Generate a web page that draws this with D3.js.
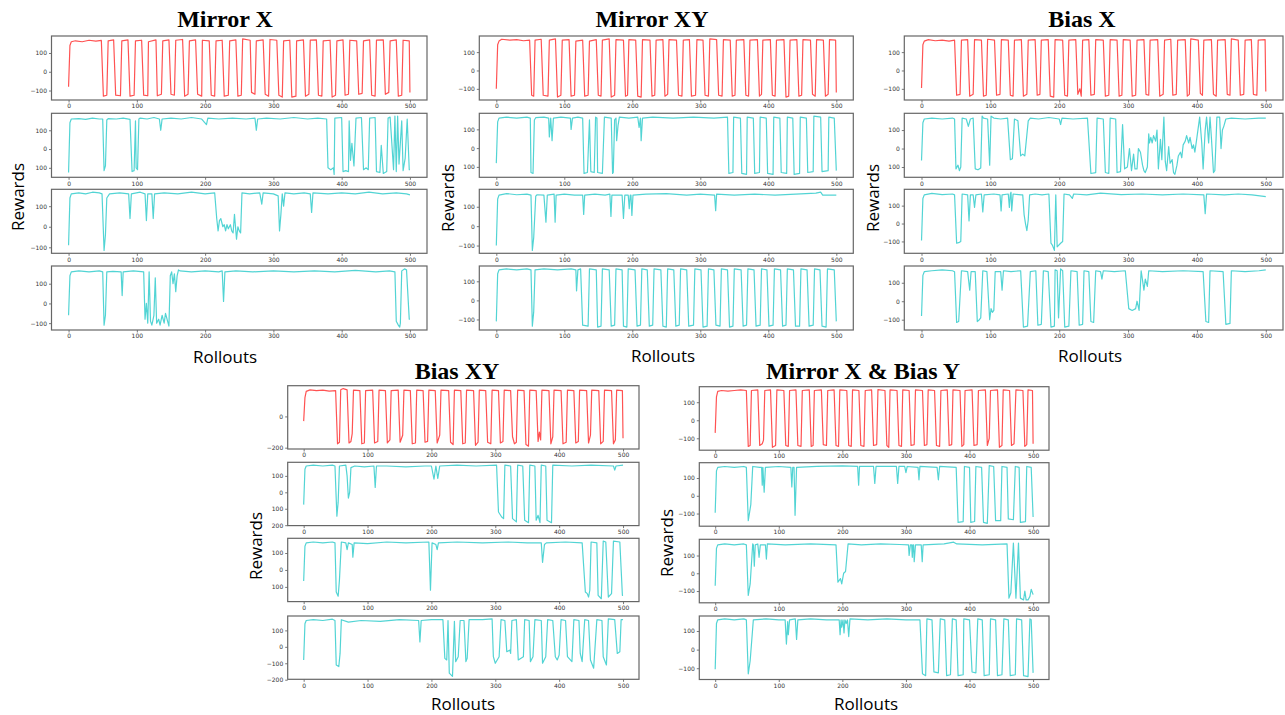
<!DOCTYPE html>
<html>
<head>
<meta charset="utf-8">
<script src="https://cdn.jsdelivr.net/npm/d3@7"></script>
<style>
  body { margin: 0; background: #fff; }
  svg { display: block; }
</style>
</head>
<body>
<svg id="chart" width="1285" height="715"></svg>
<script>
// ---- data ----
const panelTitles = ["Mirror X", "Mirror XY", "Bias X", "Bias XY", "Mirror X & Bias Y"];
const rolloutTicks = [0, 100, 200, 300, 400, 500];
const rewardTicks = [-100, 0, 100];
const rewardTicksCoarse = [-200, 0];
const rewardTicksWide = [-200, -100, 0, 100];

// each series: [rollout, reward] points
const mirrorXRed = [[0,-80],[2,140],[4,160],[10,165],[20,160],[30,168],[40,163],[48,167],
  [51,-130],[56,-125],[58,165],[66,170],[69,-125],[76,-128],[78,165],[87,170],[90,-130],[96,-125],[98,165],[107,168],[110,-125],[116,-128],[117,160],[128,170],[130,-128],[136,-120],[138,165],[147,170],[150,-120],[155,-125],[157,168],[167,172],[170,-130],[175,-120],[177,165],[186,170],[189,-120],[195,-130],[196,168],[206,165],[209,-125],[214,-130],[216,165],[225,168],[228,-130],[234,-125],[236,165],[245,170],[248,-130],[253,-125],[255,175],[266,168],[268,-110],[273,-120],[275,165],[285,170],[288,-120],[293,-130],[295,172],[305,168],[308,-125],[313,-135],[315,165],[324,168],[327,-135],[333,-130],[334,165],[344,170],[347,-130],[352,-120],[354,168],[363,170],[366,-125],[371,-130],[373,165],[383,168],[386,-135],[391,-125],[393,165],[402,170],[405,-125],[410,-120],[412,168],[422,165],[425,-120],[430,-115],[432,165],[441,170],[444,-125],[449,-130],[451,168],[461,170],[464,-120],[469,-110],[471,165],[480,170],[483,-130],[488,-125],[490,168],[499,165],[500,-110]];
const mirrorXRun1 = [[0,-125],[2,140],[4,160],[15,162],[25,158],[35,165],[45,160],[50,160],[52,-115],[54,-90],[56,155],[58,162],[70,160],[80,165],[90,158],[93,-120],[96,-115],[98,150],[99,-100],[101,-110],[103,160],[105,165],[115,160],[125,168],[133,160],[135,100],[137,160],[150,165],[165,160],[180,168],[195,160],[202,130],[204,165],[220,160],[240,165],[260,160],[273,165],[275,100],[277,160],[290,165],[310,160],[330,168],[350,160],[365,165],[378,160],[380,-100],[384,-110],[388,-100],[389,-135],[390,165],[400,168],[402,-120],[406,-115],[410,-120],[411,150],[413,-60],[415,30],[418,-90],[421,165],[429,168],[432,-110],[436,-100],[439,-110],[441,165],[449,168],[451,-120],[456,-125],[458,20],[461,-130],[466,-120],[468,165],[471,170],[476,-110],[478,175],[480,-120],[482,175],[484,-80],[488,150],[490,-115],[493,-50],[496,160],[499,-110],[500,-110]];
const mirrorXRun2 = [[0,-90],[2,140],[4,160],[15,165],[25,160],[35,168],[45,165],[49,160],[52,-115],[54,-40],[56,140],[60,160],[75,165],[88,160],[90,40],[92,160],[105,168],[112,160],[114,30],[116,160],[122,160],[124,40],[126,160],[140,165],[160,160],[180,168],[200,160],[214,165],[217,40],[219,-20],[221,30],[223,40],[226,0],[228,10],[230,-20],[232,10],[234,-10],[237,10],[239,-20],[241,-30],[243,60],[245,-20],[246,-60],[248,0],[250,-20],[252,-30],[254,165],[265,160],[280,165],[283,110],[285,165],[300,160],[307,150],[309,-20],[311,60],[313,160],[315,100],[317,165],[330,160],[345,165],[354,160],[356,70],[358,165],[380,160],[400,165],[420,160],[440,168],[460,160],[480,165],[495,160],[500,155]];
const mirrorXRun3 = [[0,-60],[2,140],[4,160],[15,165],[30,160],[45,165],[50,160],[52,-110],[54,-60],[56,160],[65,162],[77,160],[78.5,40],[80,160],[95,165],[110,160],[112,-80],[114,0],[116,-100],[118,160],[120,-90],[122,-110],[125,-60],[127,130],[129,-100],[132,-80],[134,-110],[137,-60],[140,-100],[142,-50],[145,-90],[147,-115],[149,140],[151,160],[153,100],[155,150],[157,60],[159,140],[161,170],[163,165],[180,160],[200,165],[220,160],[225,165],[227,10],[229,160],[245,165],[270,160],[300,165],[330,160],[360,165],[390,160],[420,168],[450,160],[470,165],[478,160],[480,-90],[483,-110],[485,-120],[486,-100],[488,165],[492,175],[495,170],[499,-80],[500,-80]];

const mirrorXYRed = [[0,-100],[2,140],[4,160],[8,170],[20,165],[30,168],[40,162],[49,165],
  [52,-135],[55,-140],[57,165],[66,170],[69,-135],[76,-140],[78,165],[87,172],[90,-145],[95,-135],[97,165],[107,168],[110,-140],[115,-135],[117,160],[127,165],[130,-140],[135,-135],[137,160],[147,168],[150,-135],[154,-140],[156,165],[166,172],[169,-145],[174,-135],[176,168],[187,165],[190,-140],[193,-135],[195,168],[205,165],[208,-140],[213,-145],[215,168],[226,165],[229,-140],[233,-135],[235,165],[245,168],[248,-140],[252,-130],[254,168],[265,165],[268,-135],[273,-140],[275,165],[284,168],[287,-140],[293,-135],[295,168],[304,165],[307,-135],[312,-140],[314,172],[324,168],[327,-135],[332,-140],[334,168],[344,165],[347,-140],[351,-135],[353,165],[364,168],[367,-135],[371,-140],[373,165],[384,168],[387,-140],[390,-130],[392,165],[403,168],[406,-135],[410,-140],[412,165],[423,168],[426,-145],[430,-140],[432,165],[442,168],[445,-140],[449,-135],[451,168],[462,165],[465,-130],[469,-140],[471,168],[481,165],[484,-140],[488,-130],[490,168],[499,165],[500,-120]];
const mirrorXYRun1 = [[0,-80],[2,140],[4,160],[15,165],[30,160],[45,165],[50,160],[51,-130],[54,-135],[56,150],[58,162],[70,165],[77,160],[78,60],[80,160],[82,40],[84,160],[95,165],[109,160],[110,100],[112,160],[120,165],[127,160],[129,-135],[134,-130],[137,150],[139,-125],[144,-130],[146,165],[148,160],[149,-130],[156,-135],[159,165],[169,160],[171,-135],[172,-130],[174,150],[176,160],[177,40],[179,120],[181,165],[195,160],[208,165],[210,110],[212,160],[213,40],[215,160],[230,165],[260,160],[290,165],[320,160],[340,165],[342,-135],[348,-130],[349,165],[359,160],[361,-135],[368,-140],[369,165],[378,160],[380,-135],[387,-130],[388,165],[397,160],[399,-135],[407,-140],[408,165],[417,160],[419,-130],[427,-135],[428,165],[436,160],[438,-140],[446,-135],[447,165],[456,160],[458,-130],[466,-125],[467,170],[477,165],[479,-125],[488,-120],[489,165],[497,160],[500,-120]];
const mirrorXYRun2 = [[0,-100],[2,140],[4,160],[15,168],[30,162],[45,165],[51,160],[53,-125],[55,-60],[58,155],[60,162],[70,160],[73,20],[75,160],[85,165],[86.5,20],[88,160],[100,165],[115,160],[127,160],[128.5,60],[130,160],[145,165],[160,160],[167,165],[168.6,50],[170,160],[185,160],[187,40],[189,160],[194,160],[195.5,90],[197,160],[198,160],[199.4,55],[201,160],[220,165],[250,168],[280,160],[300,165],[321,160],[322.6,80],[324,165],[350,160],[380,165],[410,160],[440,165],[470,170],[477,175],[480,160],[500,160]];
const mirrorXYRun3 = [[0,-110],[2,140],[4,160],[15,165],[30,160],[45,165],[51,160],[53,-135],[55,-60],[57,160],[70,165],[90,160],[110,165],[117,160],[118,50],[120,160],[124,165],[127,-130],[135,-135],[137,165],[147,160],[149,-140],[154,-135],[156,165],[166,160],[169,-135],[174,-130],[176,165],[185,160],[187,-135],[192,-140],[194,165],[204,160],[207,-135],[212,-130],[214,165],[222,160],[225,-135],[230,-130],[232,165],[242,160],[245,-135],[250,-140],[252,165],[261,160],[264,-135],[269,-130],[271,165],[280,160],[283,-135],[290,-130],[292,165],[301,160],[304,-140],[310,-135],[312,165],[320,160],[323,-130],[329,-135],[331,165],[340,160],[343,-140],[348,-135],[350,165],[360,160],[363,-135],[368,-130],[370,165],[379,160],[382,-135],[388,-130],[390,165],[398,160],[401,-135],[407,-130],[409,165],[418,160],[421,-135],[426,-130],[428,165],[437,160],[440,-135],[446,-135],[448,165],[457,160],[460,-135],[466,-130],[468,165],[476,160],[479,-135],[485,-140],[487,165],[497,160],[500,-110]];

const biasXRed = [[0,-95],[2,140],[4,160],[10,168],[20,162],[30,165],[40,160],[48,165],
  [51,-135],[56,-130],[58,165],[67,168],[70,-140],[75,-130],[77,168],[87,165],[90,-140],[94,-135],[96,170],[106,165],[109,-135],[114,-130],[116,168],[126,165],[129,-135],[133,-140],[135,165],[145,168],[148,-140],[153,-130],[155,165],[165,168],[168,-135],[172,-130],[174,165],[184,168],[187,-140],[192,-145],[194,168],[205,165],[208,-135],[212,-140],[214,165],[224,168],[227,-130],[230,-100],[232,-140],[234,165],[243,168],[246,-135],[251,-130],[253,168],[264,165],[267,-140],[272,-135],[274,168],[284,165],[287,-140],[291,-135],[293,168],[303,165],[306,-140],[311,-135],[313,165],[323,168],[326,-130],[330,-135],[332,165],[343,168],[346,-140],[351,-130],[353,165],[362,170],[365,-135],[370,-130],[372,165],[383,168],[386,-140],[389,-130],[391,172],[402,165],[405,-125],[408,-135],[410,165],[421,168],[424,-130],[428,-140],[430,165],[441,168],[444,-130],[448,-135],[450,172],[460,165],[463,-135],[468,-130],[470,165],[479,168],[482,-130],[487,-135],[489,165],[499,168],[500,-115]];
const biasXRun1 = [[0,-65],[2,140],[4,160],[15,165],[30,160],[45,165],[48,160],[50,-110],[53,-90],[55,-120],[57,-100],[59,165],[65,160],[68,120],[71,160],[75,165],[78,-110],[82,-115],[86,-105],[88,175],[90,165],[96,160],[99,-90],[101,175],[105,165],[115,160],[125,165],[129,-60],[132,-55],[135,160],[140,150],[144,-40],[147,-30],[150,-40],[155,150],[158,165],[170,160],[185,168],[200,160],[202,130],[204,165],[220,160],[241,165],[246,-135],[253,-130],[255,165],[264,160],[267,-130],[272,-135],[274,165],[282,160],[284,-130],[289,-125],[292,130],[295,-110],[299,-100],[302,0],[305,-120],[308,-30],[310,-110],[313,-110],[315,0],[318,-20],[321,-90],[323,-120],[325,-130],[328,-100],[330,80],[331,30],[333,60],[335,30],[337,70],[340,40],[342,100],[344,-110],[347,50],[349,-60],[352,170],[354,-70],[356,-120],[359,10],[361,-80],[364,-60],[366,-130],[368,-140],[371,-90],[373,-40],[376,-20],[378,-50],[380,20],[383,40],[385,70],[388,30],[390,60],[393,0],[395,20],[397,-20],[400,60],[404,170],[407,30],[409,-110],[412,100],[414,170],[417,30],[419,170],[421,60],[424,-130],[426,-120],[429,170],[433,170],[435,0],[437,100],[439,120],[442,160],[450,165],[470,160],[490,165],[500,165]];
const biasXRun2 = [[0,-95],[2,140],[4,160],[15,168],[30,162],[45,165],[48,160],[51,-110],[55,-105],[57,-100],[59,165],[67,160],[69,15],[71,160],[75,160],[77,90],[79,160],[87,165],[89,65],[91,160],[105,165],[114,160],[115.6,70],[117,160],[126,165],[127.6,90],[129,165],[130,175],[131,70],[133,165],[145,160],[147,160],[149,50],[151,0],[153,-40],[155,20],[157,160],[165,165],[175,160],[185,165],[188,-110],[190,-120],[193,-150],[195,160],[197,-130],[202,-110],[205,-100],[207,165],[215,160],[219,140],[221,165],[240,160],[260,170],[290,162],[320,165],[350,160],[380,165],[410,160],[412,55],[414,165],[440,160],[460,165],[480,160],[500,150]];
const biasXRun3 = [[0,-80],[2,140],[4,160],[15,165],[30,170],[45,165],[48,160],[51,-115],[54,-110],[58,165],[67,160],[70,60],[72,160],[78,160],[81,-110],[84,-100],[86,-90],[89,165],[95,160],[99,-100],[101,-40],[103,-60],[105,-50],[107,160],[115,160],[117,60],[119,165],[130,160],[144,165],[148,-140],[154,-135],[158,160],[166,165],[169,-130],[174,-125],[177,165],[184,160],[188,-140],[193,-135],[194,170],[197,165],[199,-90],[202,175],[205,165],[208,-140],[214,-135],[217,165],[226,160],[229,-130],[234,-125],[236,165],[243,160],[246,-110],[250,-115],[253,165],[260,160],[262,120],[264,165],[280,160],[296,165],[301,-40],[306,-50],[311,-40],[313,0],[316,-50],[319,165],[323,60],[325,120],[328,80],[330,165],[350,160],[380,165],[409,160],[413,-110],[417,-115],[419,165],[438,160],[442,-125],[448,-120],[450,165],[470,160],[490,165],[500,170]];

const biasXYRed = [[0,-30],[2,120],[4,160],[10,170],[20,165],[30,168],[40,162],[50,165],
  [53,-175],[56,-165],[58,170],[62,178],[68,170],[71,-170],[74,-160],[76,-110],[78,168],[88,165],[91,-175],[95,-170],[97,165],[108,168],[111,-170],[116,-160],[118,168],[128,165],[131,-170],[135,-150],[137,165],[148,168],[151,-165],[155,-120],[157,168],[167,165],[170,-175],[175,-170],[177,168],[187,165],[190,-165],[194,-160],[196,168],[206,165],[209,-170],[213,-120],[215,168],[227,165],[230,-165],[234,-180],[236,168],[246,165],[249,-175],[253,-170],[255,168],[266,165],[269,-185],[273,-165],[275,168],[285,165],[288,-165],[293,-175],[295,168],[305,165],[308,-170],[312,-160],[314,168],[324,165],[327,-130],[330,-175],[333,-165],[335,168],[345,165],[348,-180],[352,-190],[354,168],[364,165],[367,-160],[369,-100],[371,-150],[373,168],[384,165],[387,-175],[390,-130],[392,168],[403,165],[406,-175],[411,-165],[413,168],[423,165],[426,-170],[430,-160],[432,168],[443,165],[446,-170],[449,-120],[451,168],[462,165],[465,-175],[469,-160],[471,168],[482,165],[485,-175],[488,-150],[490,168],[499,165],[500,-140]];
const biasXYRun1 = [[0,-75],[2,140],[4,160],[15,165],[30,160],[45,165],[49,160],[52,-145],[54,-60],[56,160],[66,165],[68,100],[70,-35],[72,0],[74,150],[80,160],[95,155],[110,160],[112,30],[114,160],[130,160],[160,155],[190,160],[200,160],[204,80],[207,160],[210,85],[213,160],[240,165],[270,160],[302,165],[305,-120],[310,-150],[313,-160],[315,165],[324,160],[327,-160],[333,-180],[335,165],[343,160],[346,-170],[352,-185],[354,165],[362,160],[364,-170],[367,-140],[370,-185],[372,165],[379,160],[381,-170],[388,-185],[390,165],[420,160],[450,165],[485,160],[487,135],[489,160],[500,165]];
const biasXYRun2 = [[0,-65],[2,140],[4,160],[15,165],[30,160],[45,165],[49,160],[51,-130],[54,-155],[56,-60],[59,165],[66,160],[68,120],[70,160],[76,150],[77,75],[79,160],[100,155],[130,165],[160,160],[196,165],[198.5,-120],[201,160],[207,150],[209,120],[211,160],[240,165],[280,160],[320,165],[350,160],[372,160],[374,45],[377,150],[380,160],[410,165],[436,160],[441,-130],[444,-140],[446,-160],[448,-120],[450,165],[459,160],[461,-150],[466,-170],[469,170],[473,165],[477,-160],[482,-140],[485,170],[495,165],[499,-150],[500,-150]];
const biasXYRun3 = [[0,-80],[2,140],[4,160],[15,165],[30,160],[45,168],[49,160],[51,-110],[55,-120],[57,-40],[59,165],[70,150],[90,160],[120,155],[150,165],[180,160],[182,30],[184,160],[200,165],[218,165],[221,-70],[224,-80],[226,160],[228,-160],[233,-180],[236,155],[238,-90],[242,-60],[245,160],[251,160],[254,-90],[256,-70],[259,165],[280,165],[295,170],[297,-60],[300,-100],[303,-80],[306,-60],[309,165],[315,160],[318,-30],[323,-20],[324,-40],[326,160],[333,165],[336,-80],[344,-60],[346,165],[353,160],[355,-90],[359,-60],[362,165],[372,160],[374,-100],[379,-60],[382,165],[390,160],[394,-60],[397,-80],[400,-50],[403,165],[410,160],[413,-60],[420,-90],[423,165],[431,160],[433,-40],[436,-90],[440,165],[446,160],[449,-80],[454,-130],[459,165],[467,160],[469,-60],[474,-110],[477,170],[487,165],[491,-40],[495,-30],[497,165],[500,165]];

const mxByRed = [[0,-70],[2,130],[4,160],[10,165],[20,162],[30,165],[40,168],[49,165],
  [52,-145],[55,-140],[57,165],[67,168],[70,-140],[74,-130],[76,-110],[78,165],[87,168],[90,-150],[95,-140],[97,168],[108,165],[111,-140],[115,-145],[117,165],[127,168],[130,-140],[135,-145],[137,165],[148,168],[151,-145],[154,-140],[156,165],[167,168],[170,-135],[175,-140],[177,165],[187,168],[190,-140],[194,-145],[196,168],[207,165],[210,-140],[214,-145],[216,168],[226,165],[229,-140],[234,-145],[236,165],[246,168],[249,-140],[254,-135],[256,170],[267,165],[270,-140],[273,-150],[275,168],[286,165],[289,-140],[293,-145],[295,168],[305,165],[308,-140],[313,-135],[315,168],[326,165],[329,-140],[333,-135],[335,168],[345,165],[348,-140],[353,-145],[355,165],[365,168],[368,-140],[372,-135],[374,168],[385,165],[388,-145],[391,-135],[393,165],[404,168],[407,-140],[412,-135],[414,165],[425,168],[428,-140],[431,-100],[433,165],[444,168],[447,-150],[451,-140],[453,168],[463,165],[466,-140],[470,-130],[473,168],[484,165],[487,-145],[490,-135],[492,168],[499,165],[500,-130]];
const mxByRun1 = [[0,-95],[2,140],[4,160],[15,165],[30,160],[45,165],[49,160],[52,-140],[56,-50],[59,165],[70,160],[73,160],[74,60],[75,160],[77,20],[79,160],[100,165],[119,160],[120.5,50],[122,160],[124,160],[125.6,-110],[128,160],[160,165],[200,168],[224,165],[225.6,60],[227,165],[249,165],[251,70],[253,165],[285,165],[287,70],[289,165],[298,165],[300,130],[302,165],[319,160],[320.5,90],[322,165],[349,160],[351,90],[353,165],[379,160],[382,-150],[390,-145],[392,165],[400,160],[402,-150],[408,-145],[410,165],[419,160],[422,-150],[428,-155],[431,170],[438,165],[441,-140],[449,-140],[451,165],[459,160],[461,-130],[469,-135],[472,165],[478,160],[480,-150],[488,-145],[490,165],[497,160],[500,-120]];
const mxByRun2 = [[0,-70],[2,140],[4,160],[15,165],[30,160],[45,165],[49,160],[52,-125],[55,-60],[59,165],[60,160],[61.5,40],[63,160],[67,165],[69,90],[71,160],[79,160],[80.5,80],[82,165],[110,160],[150,165],[190,160],[193,-50],[195,-40],[197,-30],[199,-60],[202,0],[205,10],[209,165],[230,160],[260,165],[290,162],[304,160],[305,100],[307,160],[309,160],[310,90],[311,160],[312,160],[313,65],[315,160],[324,160],[325.6,65],[327,160],[360,165],[375,175],[380,165],[420,160],[459,165],[462,-140],[465,-110],[469,170],[473,-140],[477,170],[480,-140],[485,-150],[487,-100],[489,-150],[492,-150],[495,-130],[497,-90],[500,-120]];
const mxByRun3 = [[0,-105],[2,140],[4,160],[15,165],[30,160],[45,165],[49,160],[52,-130],[55,-60],[60,160],[80,165],[100,160],[110,160],[112,30],[114,150],[115,80],[117,160],[126,165],[128,55],[130,160],[150,165],[175,160],[195,160],[196.4,80],[198,160],[199,120],[201,160],[202.6,90],[204,160],[206,140],[208,160],[210,70],[212,165],[240,160],[270,165],[300,160],[322,160],[326,-130],[331,-140],[333,165],[341,160],[344,-120],[351,-125],[354,165],[361,160],[364,-140],[370,-135],[373,165],[379,160],[382,-140],[390,-135],[391,165],[400,160],[404,-120],[410,-125],[413,165],[420,160],[423,-140],[431,-135],[433,165],[441,160],[444,-140],[451,-135],[454,165],[461,160],[464,-140],[472,-135],[474,165],[482,160],[485,-140],[492,-145],[495,165],[497,160],[500,-125]];

const panelSeries = [
  [mirrorXRed, mirrorXRun1, mirrorXRun2, mirrorXRun3],
  [mirrorXYRed, mirrorXYRun1, mirrorXYRun2, mirrorXYRun3],
  [biasXRed, biasXRun1, biasXRun2, biasXRun3],
  [biasXYRed, biasXYRun1, biasXYRun2, biasXYRun3],
  [mxByRed, mxByRun1, mxByRun2, mxByRun3]
];
const panelYTicks = [
  [rewardTicks, rewardTicks, rewardTicks, rewardTicks],
  [rewardTicks, rewardTicks, rewardTicks, rewardTicks],
  [rewardTicks, rewardTicks, rewardTicks, rewardTicks],
  [rewardTicksCoarse, rewardTicksWide, rewardTicks, rewardTicksWide],
  [rewardTicks, rewardTicks, rewardTicks, rewardTicks]
];
// the minus sign got cropped off in these subplots of the original figure
const minusCropped = [
  [false, true, false, false],
  [false, true, false, false],
  [false, true, false, false],
  [false, true, true, false],
  [false, false, false, false]
];

// ---- layout ----
const layout = [
  {left: 51.5, right: 427, tops: [36, 113.3, 189.3, 266], h: 64, titleX: 225, titleY: 27, xLabelX: 225, xLabelY: 356, yLabelX: 17, yLabelY: 197},
  {left: 479.3, right: 853.3, tops: [36, 113.3, 189.3, 266], h: 64, titleX: 652, titleY: 27, xLabelX: 663, xLabelY: 355, yLabelX: 447, yLabelY: 198},
  {left: 904.3, right: 1283, tops: [36, 113.3, 189.3, 266], h: 64, titleX: 1082, titleY: 27, xLabelX: 1090, xLabelY: 355, yLabelX: 872, yLabelY: 198},
  {left: 287.7, right: 639, tops: [385.7, 462.3, 538.3, 616], h: 63.3, titleX: 457, titleY: 379, xLabelX: 463, xLabelY: 703, yLabelX: 255, yLabelY: 546},
  {left: 699.3, right: 1049, tops: [386.7, 462.7, 539.3, 616], h: 63.5, titleX: 863, titleY: 379, xLabelX: 866, xLabelY: 703, yLabelX: 666, yLabelY: 543}
];

const svg = d3.select("#chart");
const defs = svg.append("defs");

function formatReward(v, cropped) {
  if (v < 0) return cropped ? String(-v) : "\u2212" + (-v);
  return String(v);
}

function renderSubplot(g, p, i, k, id) {
  const data = panelSeries[i][k];
  const top = p.tops[k];
  const bottom = top + p.h;

  const x = d3.scaleLinear().domain([-25, 525]).range([p.left, p.right]);
  const ext = d3.extent(data, d => d[1]);
  const pad = (ext[1] - ext[0]) * 0.05;
  const y = d3.scaleLinear().domain([ext[0] - pad, ext[1] + pad]).range([bottom, top]);

  defs.append("clipPath").attr("id", id)
    .append("rect").attr("x", p.left).attr("y", top)
    .attr("width", p.right - p.left).attr("height", p.h);

  const line = d3.line().x(d => x(d[0])).y(d => y(d[1]));
  g.append("path")
    .datum(data)
    .attr("clip-path", `url(#${id})`)
    .attr("d", line)
    .attr("fill", "none")
    .attr("stroke", k === 0 ? "#ff0000" : "#00bfbf")
    .attr("stroke-opacity", 0.68)
    .attr("stroke-width", 1.2)
    .attr("stroke-linejoin", "round");

  const xAxis = g.append("g")
    .attr("transform", `translate(0,${bottom})`)
    .call(d3.axisBottom(x).tickValues(rolloutTicks).tickSize(2.5).tickPadding(1.5));
  const yAxis = g.append("g")
    .attr("transform", `translate(${p.left},0)`)
    .call(d3.axisLeft(y).tickValues(panelYTicks[i][k]).tickSize(2.5).tickPadding(2)
      .tickFormat(v => formatReward(v, minusCropped[i][k])));
  [xAxis, yAxis].forEach(a => {
    a.select(".domain").remove();
    a.selectAll("line").attr("stroke", "#555").attr("stroke-width", 0.8);
    a.selectAll("text")
      .attr("fill", "#333")
      .style("font-family", "DejaVu Sans, sans-serif")
      .style("font-size", "6px");
  });

  g.append("rect")
    .attr("x", p.left).attr("y", top)
    .attr("width", p.right - p.left).attr("height", p.h)
    .attr("fill", "none")
    .attr("stroke", "#666")
    .attr("stroke-width", 1.2);
}

layout.forEach((p, i) => {
  const g = svg.append("g").attr("class", "panel");

  g.append("text")
    .attr("x", p.titleX).attr("y", p.titleY)
    .attr("text-anchor", "middle")
    .style("font-family", "Liberation Serif, Times New Roman, serif")
    .style("font-weight", "bold")
    .style("font-size", "24px")
    .text(panelTitles[i]);

  for (let k = 0; k < 4; k++) {
    renderSubplot(g, p, i, k, `clip-${i}-${k}`);
  }

  g.append("text")
    .attr("x", p.xLabelX).attr("y", p.xLabelY)
    .attr("text-anchor", "middle")
    .attr("dominant-baseline", "central")
    .style("font-family", "Open Sans, sans-serif")
    .style("font-size", "17px")
    .text("Rollouts");

  g.append("text")
    .attr("transform", `translate(${p.yLabelX},${p.yLabelY}) rotate(-90)`)
    .attr("text-anchor", "middle")
    .attr("dominant-baseline", "central")
    .style("font-family", "Open Sans, sans-serif")
    .style("font-size", "17px")
    .text("Rewards");
});
</script>
</body>
</html>
